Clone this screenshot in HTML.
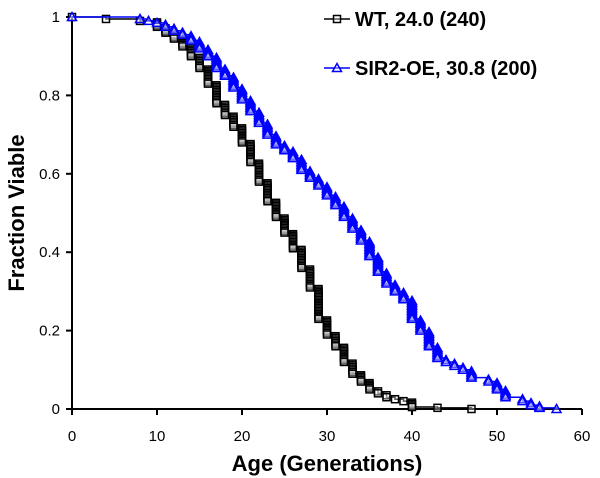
<!DOCTYPE html>
<html><head><meta charset="utf-8"><style>
body{margin:0;background:#fff}
svg{display:block;font-family:"Liberation Sans",Arial,sans-serif}
</style></head><body>
<svg id="chart" width="600" height="478"></svg>
<script>
const wtAges=[0,4,8,10,11,12,13,14,15,16,17,18,19,20,21,22,23,24,25,26,27,28,29,30,31,32,33,34,35,36,37,38,39,40,43,47];
const wtVals=[1,0.995,0.99,0.975,0.96,0.945,0.925,0.9,0.87,0.83,0.78,0.75,0.72,0.68,0.63,0.58,0.53,0.49,0.45,0.41,0.36,0.31,0.23,0.19,0.16,0.12,0.09,0.07,0.05,0.04,0.03,0.025,0.02,0.005,0.003,0];
const sirAges=[0,8,9,10,11,12,13,14,15,16,17,18,19,20,21,22,23,24,25,26,27,28,29,30,31,32,33,34,35,36,37,38,39,40,41,42,43,44,45,46,47,49,50,51,53,54,55,57];
const sirVals=[1,0.995,0.99,0.985,0.975,0.965,0.955,0.94,0.92,0.9,0.87,0.85,0.82,0.79,0.76,0.73,0.7,0.675,0.66,0.64,0.61,0.59,0.57,0.545,0.52,0.49,0.46,0.43,0.39,0.35,0.32,0.3,0.28,0.23,0.2,0.16,0.13,0.12,0.11,0.1,0.08,0.07,0.05,0.03,0.02,0.01,0.003,0];
const xTicks=[0,10,20,30,40,50,60];
const yTicks=[0,0.2,0.4,0.6,0.8,1];
const yTickLabels=["0","0.2","0.4","0.6","0.8","1"];

const NS="http://www.w3.org/2000/svg";
const svg=document.getElementById('chart');
const X=v=>72+v*(510/60);
const Y=v=>409-v*392;
function mk(tag,attrs,parent){const e=document.createElementNS(NS,tag);for(const k in attrs)e.setAttribute(k,attrs[k]);(parent||svg).appendChild(e);return e;}

const ax=mk('g',{});


mk('line',{x1:72,y1:Y(1)-1,x2:72,y2:409,stroke:'#000','stroke-width':2},ax);
mk('line',{x1:72,y1:409,x2:X(60),y2:409,stroke:'#000','stroke-width':2},ax);
xTicks.forEach(t=>{
  mk('line',{x1:X(t),y1:409,x2:X(t),y2:415,stroke:'#000','stroke-width':2},ax);
  const tx=mk('text',{x:X(t),y:441,'text-anchor':'middle','font-size':15},ax);
  tx.textContent=t;
  
  
});
yTicks.forEach((t,i)=>{
  mk('line',{x1:66,y1:Y(t),x2:72,y2:Y(t),stroke:'#000','stroke-width':2},ax);
  const tx=mk('text',{x:60,y:Y(t)+5,'text-anchor':'end','font-size':15},ax);
  tx.textContent=yTickLabels[i];
  
  
});
const xl=mk('text',{x:327,y:471,'text-anchor':'middle','font-size':22,'font-weight':'bold'});
xl.textContent='Age (Generations)';


const yl=mk('text',{x:0,y:0,'text-anchor':'middle','font-size':22,'font-weight':'bold',transform:'translate(24,213) rotate(-90)'});
yl.textContent='Fraction Viable';



function marker(g,type,x,y,col){
  if(type==='sq'){return mk('rect',{x:x-3.5,y:y-3.5,width:7,height:7,fill:'#fff','fill-opacity':0.35,stroke:col,'stroke-width':1.5},g);}
  return mk('path',{d:`M${x},${y-4.5}L${x+4.5},${y+3.5}L${x-4.5},${y+3.5}Z`,fill:'#fff','fill-opacity':0.35,stroke:col,'stroke-width':1.5},g);
}
function series(ages,vals,col,type,name){
  const g=mk('g',{});
  
  
  let d=`M${X(ages[0])},${Y(vals[0])}`;
  for(let i=1;i<ages.length;i++){d+=`L${X(ages[i])},${Y(vals[i-1])}L${X(ages[i])},${Y(vals[i])}`;}
  mk('path',{d,fill:'none',stroke:col,'stroke-width':1.5},g);
  marker(g,type,X(ages[0]),Y(vals[0]),col);
  for(let i=1;i<ages.length;i++){
    const x=X(ages[i]),y0=Y(vals[i-1]),y1=Y(vals[i]);
    const n=Math.max(1,Math.round((y1-y0)/1.6));
    for(let k=1;k<=n;k++){
      const m=marker(g,type,x,y0+(y1-y0)*k/n,col);
      
      
    }
  }
}
series(wtAges,wtVals,'#000','sq','wt-series');
series(sirAges,sirVals,'#0000ff','tri','sir2-oe-series');

const lg=mk('g',{});


mk('line',{x1:324,y1:19,x2:350,y2:19,stroke:'#000','stroke-width':1.5},lg);
marker(lg,'sq',337,19,'#000');
const t1=mk('text',{x:355,y:26,'font-size':20,'font-weight':'bold'},lg);
t1.textContent='WT, 24.0 (240)';


mk('line',{x1:324,y1:68,x2:350,y2:68,stroke:'#0000ff','stroke-width':1.5},lg);
marker(lg,'tri',337,68,'#0000ff');
const t2=mk('text',{x:355,y:75,'font-size':20,'font-weight':'bold'},lg);
t2.textContent='SIR2-OE, 30.8 (200)';


</script>
</body></html>
